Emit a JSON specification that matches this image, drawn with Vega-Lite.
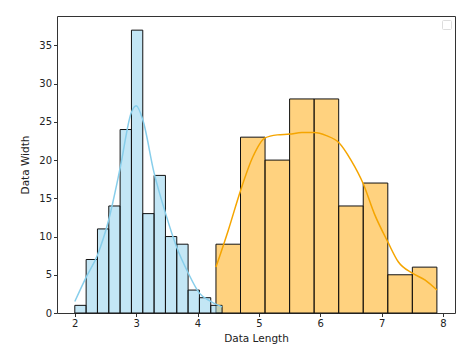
{
  "$schema": "https://vega.github.io/schema/vega-lite/v6.json",
  "width": 398,
  "height": 297,
  "autosize": "none",
  "padding": {"left": 57, "top": 16, "right": 19, "bottom": 42},
  "config": {
    "font": "DejaVu Sans",
    "view": {"stroke": "#333", "strokeWidth": 1},
    "axis": {
      "grid": false,
      "domain": false,
      "tickColor": "#333",
      "tickSize": 3.5,
      "labelFontSize": 10,
      "labelColor": "#222",
      "labelPadding": 2,
      "titleFontSize": 10.5,
      "titleFontWeight": "normal",
      "titleColor": "#222"
    }
  },
  "datasets": {
    "bars": [
      {"series": "length", "x0": 4.3, "x1": 4.7, "count": 9},
      {"series": "length", "x0": 4.7, "x1": 5.1, "count": 23},
      {"series": "length", "x0": 5.1, "x1": 5.5, "count": 20},
      {"series": "length", "x0": 5.5, "x1": 5.9, "count": 28},
      {"series": "length", "x0": 5.9, "x1": 6.3, "count": 28},
      {"series": "length", "x0": 6.3, "x1": 6.7, "count": 14},
      {"series": "length", "x0": 6.7, "x1": 7.1, "count": 17},
      {"series": "length", "x0": 7.1, "x1": 7.5, "count": 5},
      {"series": "length", "x0": 7.5, "x1": 7.9, "count": 6},
      {"series": "width", "x0": 2.0, "x1": 2.1846, "count": 1},
      {"series": "width", "x0": 2.1846, "x1": 2.3692, "count": 7},
      {"series": "width", "x0": 2.3692, "x1": 2.5538, "count": 11},
      {"series": "width", "x0": 2.5538, "x1": 2.7385, "count": 14},
      {"series": "width", "x0": 2.7385, "x1": 2.9231, "count": 24},
      {"series": "width", "x0": 2.9231, "x1": 3.1077, "count": 37},
      {"series": "width", "x0": 3.1077, "x1": 3.2923, "count": 13},
      {"series": "width", "x0": 3.2923, "x1": 3.4769, "count": 18},
      {"series": "width", "x0": 3.4769, "x1": 3.6615, "count": 10},
      {"series": "width", "x0": 3.6615, "x1": 3.8462, "count": 9},
      {"series": "width", "x0": 3.8462, "x1": 4.0308, "count": 3},
      {"series": "width", "x0": 4.0308, "x1": 4.2154, "count": 2},
      {"series": "width", "x0": 4.2154, "x1": 4.4, "count": 1}
    ],
    "kde": [
      {"series": "length", "x": 4.3, "y": 6.0},
      {"series": "length", "x": 4.5, "y": 10.8},
      {"series": "length", "x": 4.7, "y": 16.0},
      {"series": "length", "x": 4.9, "y": 20.4},
      {"series": "length", "x": 5.1, "y": 22.9},
      {"series": "length", "x": 5.3, "y": 23.3},
      {"series": "length", "x": 5.5, "y": 23.4},
      {"series": "length", "x": 5.7, "y": 23.6},
      {"series": "length", "x": 5.9, "y": 23.6},
      {"series": "length", "x": 6.1, "y": 23.2},
      {"series": "length", "x": 6.3, "y": 22.3},
      {"series": "length", "x": 6.5, "y": 20.0},
      {"series": "length", "x": 6.7, "y": 16.9},
      {"series": "length", "x": 6.88, "y": 13.0},
      {"series": "length", "x": 7.1, "y": 9.3},
      {"series": "length", "x": 7.27, "y": 6.7},
      {"series": "length", "x": 7.5, "y": 5.2},
      {"series": "length", "x": 7.71, "y": 4.3},
      {"series": "length", "x": 7.9, "y": 3.0},
      {"series": "width", "x": 2.0, "y": 1.5},
      {"series": "width", "x": 2.18, "y": 4.6},
      {"series": "width", "x": 2.37, "y": 7.6},
      {"series": "width", "x": 2.55, "y": 12.1},
      {"series": "width", "x": 2.74, "y": 19.0},
      {"series": "width", "x": 2.92, "y": 26.2},
      {"series": "width", "x": 3.0, "y": 27.1},
      {"series": "width", "x": 3.11, "y": 25.2},
      {"series": "width", "x": 3.29, "y": 18.4},
      {"series": "width", "x": 3.48, "y": 13.0},
      {"series": "width", "x": 3.66, "y": 8.6},
      {"series": "width", "x": 3.85, "y": 5.2},
      {"series": "width", "x": 4.03, "y": 2.6},
      {"series": "width", "x": 4.22, "y": 1.5},
      {"series": "width", "x": 4.4, "y": 0.8}
    ]
  },
  "layer": [
    {
      "data": {"name": "bars"},
      "mark": {"type": "rect", "fillOpacity": 0.5, "stroke": "#111", "strokeWidth": 1},
      "encoding": {
        "x": {"field": "x0", "type": "quantitative", "scale": {"domain": [1.71, 8.195], "nice": false, "zero": false}, "axis": {"values": [2, 3, 4, 5, 6, 7, 8], "format": "d", "title": "Data Length", "titlePadding": 5}},
        "x2": {"field": "x1"},
        "y": {"field": "count", "type": "quantitative", "scale": {"domain": [0, 38.85], "nice": false}, "axis": {"values": [0, 5, 10, 15, 20, 25, 30, 35], "format": "d", "title": "Data Width", "titlePadding": 8}},
        "y2": {"datum": 0},
        "fill": {"field": "series", "type": "nominal", "scale": {"domain": ["width", "length"], "range": ["#87CEEB", "#FFA500"]}, "legend": null},
        "order": {"field": "series", "sort": "ascending"}
      }
    },
    {
      "data": {"name": "kde"},
      "mark": {"type": "line", "interpolate": "monotone", "strokeWidth": 1.5},
      "encoding": {
        "x": {"field": "x", "type": "quantitative"},
        "y": {"field": "y", "type": "quantitative"},
        "color": {"field": "series", "type": "nominal", "scale": {"domain": ["width", "length"], "range": ["#87CEEB", "#F5A500"]}, "legend": null}
      }
    },
    {
      "data": {"values": [{"lab": " "}]},
      "mark": {"type": "point", "opacity": 0},
      "encoding": {
        "shape": {"field": "lab", "type": "nominal", "legend": {"orient": "top-right", "title": null, "labelExpr": "''", "labelFontSize": 1, "labelOffset": 0, "labelLimit": 1, "symbolOpacity": 0, "symbolSize": 10, "strokeColor": "#ddd", "padding": 2, "offset": 4, "cornerRadius": 1}}
      }
    }
  ]
}
